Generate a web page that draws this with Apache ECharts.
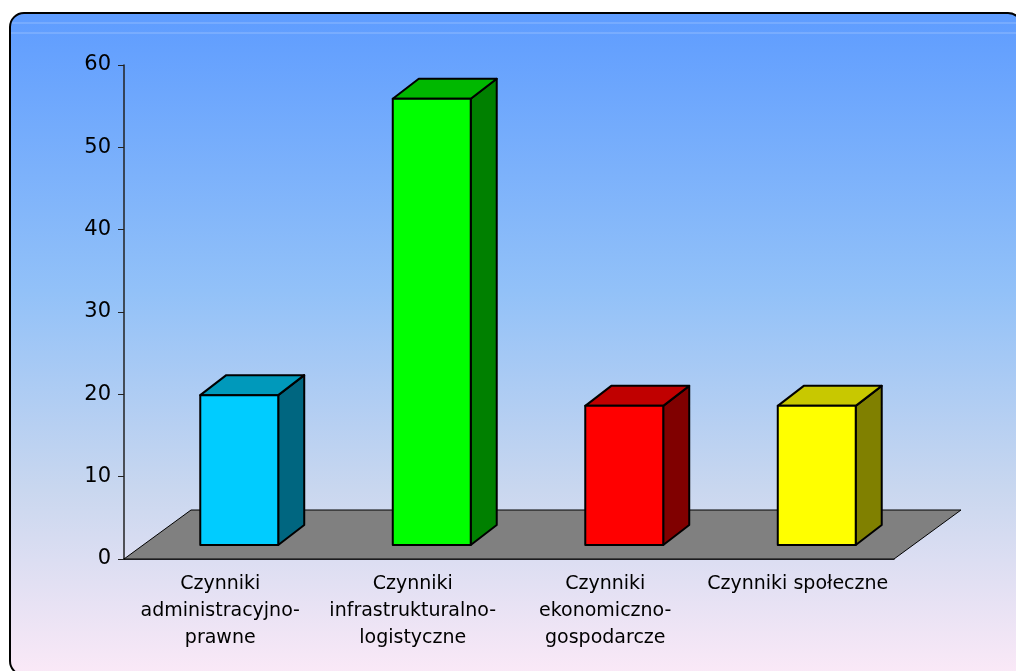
<!DOCTYPE html>
<html>
<head>
<meta charset="utf-8">
<style>
  html, body { margin: 0; padding: 0; background: #ffffff; }
  #DataChart { width: 1016px; height: 671px; }
</style>
<script src="https://cdn.jsdelivr.net/npm/echarts@6/dist/echarts.min.js"></script>
</head>
<body>
<div id="DataChart"></div>
<script>
// dane wykresu
var categories = [
    'Czynniki\nadministracyjno-\nprawne',
    'Czynniki\ninfrastrukturalno-\nlogistyczne',
    'Czynniki\nekonomiczno-\ngospodarcze',
    'Czynniki społeczne'
];
var values = [18.2, 54.2, 16.9, 16.9];
var frontColors = ['#00ccff', '#00ff00', '#ff0000', '#ffff00'];
var topColors   = ['#0099bb', '#00b800', '#c00000', '#c8c800'];
var sideColors  = ['#006680', '#008000', '#800000', '#808000'];
var yTicks = [0, 10, 20, 30, 40, 50, 60];

var myChart = echarts.init(document.getElementById('DataChart'));

// przesuniecia 3D (piksele)
var FRONT_DX = 19, FRONT_DY = -14;   // polozenie slupka w glebi podlogi
var DEPTH_DX = 26, DEPTH_DY = -20;   // glebokosc slupka
var FLOOR_DX = 67, FLOOR_DY = -49;   // glebokosc podlogi

function renderFloor(params, api) {
    var cs = params.coordSys;
    var y0 = api.coord([0, 0])[1];
    var x0 = cs.x, x1 = cs.x + cs.width;
    return {
        type: 'polygon',
        shape: { points: [[x0, y0], [x0 + FLOOR_DX, y0 + FLOOR_DY], [x1 + FLOOR_DX, y0 + FLOOR_DY], [x1, y0]] },
        style: { fill: '#808080', stroke: '#000', lineWidth: 1 }
    };
}

function renderBar(params, api) {
    var i = api.value(0);
    var v = api.value(1);
    var base = api.coord([i, 0]);
    var top = api.coord([i, v]);
    var bw = api.size([1, 0])[0] * 0.405;
    var xl = base[0] + FRONT_DX - bw / 2;
    var xr = xl + bw;
    var yb = base[1] + FRONT_DY;
    var yt = top[1] + FRONT_DY;
    var st = { stroke: '#000', lineWidth: 2, lineJoin: 'round' };
    return {
        type: 'group',
        children: [
            {
                type: 'polygon',
                shape: { points: [[xr, yt], [xr + DEPTH_DX, yt + DEPTH_DY], [xr + DEPTH_DX, yb + DEPTH_DY], [xr, yb]] },
                style: Object.assign({ fill: sideColors[i] }, st)
            },
            {
                type: 'polygon',
                shape: { points: [[xl, yt], [xl + DEPTH_DX, yt + DEPTH_DY], [xr + DEPTH_DX, yt + DEPTH_DY], [xr, yt]] },
                style: Object.assign({ fill: topColors[i] }, st)
            },
            {
                type: 'rect',
                shape: { x: xl, y: yt, width: bw, height: yb - yt },
                style: Object.assign({ fill: frontColors[i] }, st)
            }
        ]
    };
}

var option = {
    animation: false,
    textStyle: { fontFamily: 'DejaVu Sans' },
    graphic: [
        {
            type: 'rect',
            z: -10,
            shape: { x: 10, y: 13, width: 1012, height: 662, r: 14 },
            style: {
                fill: new echarts.graphic.LinearGradient(0, 0, 0, 1, [
                    { offset: 0, color: '#5e9cff' },
                    { offset: 0.42, color: '#92c1f8' },
                    { offset: 0.72, color: '#c9d7ef' },
                    { offset: 1, color: '#fbe9f7' }
                ]),
                stroke: '#000',
                lineWidth: 2
            }
        },
        {
            type: 'line', z: -9,
            shape: { x1: 12, y1: 23, x2: 1016, y2: 23 },
            style: { stroke: 'rgba(255,255,255,0.3)', lineWidth: 1 }
        },
        {
            type: 'line', z: -9,
            shape: { x1: 11, y1: 33, x2: 1016, y2: 33 },
            style: { stroke: 'rgba(255,255,255,0.3)', lineWidth: 1 }
        }
    ],
    grid: { left: 124, right: 122, top: 65, bottom: 112 },
    xAxis: {
        type: 'category',
        data: categories,
        boundaryGap: true,
        axisLine: { lineStyle: { color: '#000', width: 1.5 } },
        axisTick: { length: 7, lineStyle: { color: '#000', width: 1 } },
        axisLabel: {
            color: '#000',
            fontSize: 19,
            lineHeight: 27,
            margin: 12,
            interval: 0
        },
        splitLine: { show: false }
    },
    yAxis: {
        type: 'value',
        min: yTicks[0],
        max: yTicks[yTicks.length - 1],
        interval: 10,
        axisLine: { show: true, lineStyle: { color: '#222', width: 1.5 } },
        axisTick: { show: true, length: 6, lineStyle: { color: '#222' } },
        axisLabel: { color: '#000', fontSize: 21, margin: 13 },
        splitLine: { show: false }
    },
    series: [
        {
            type: 'custom',
            renderItem: renderFloor,
            data: [[0, 0]],
            z: 1,
            silent: true
        },
        {
            type: 'custom',
            renderItem: renderBar,
            encode: { x: 0, y: 1 },
            data: values.map(function (v, i) { return [i, v]; }),
            z: 3
        }
    ]
};

myChart.setOption(option);
</script>
</body>
</html>
